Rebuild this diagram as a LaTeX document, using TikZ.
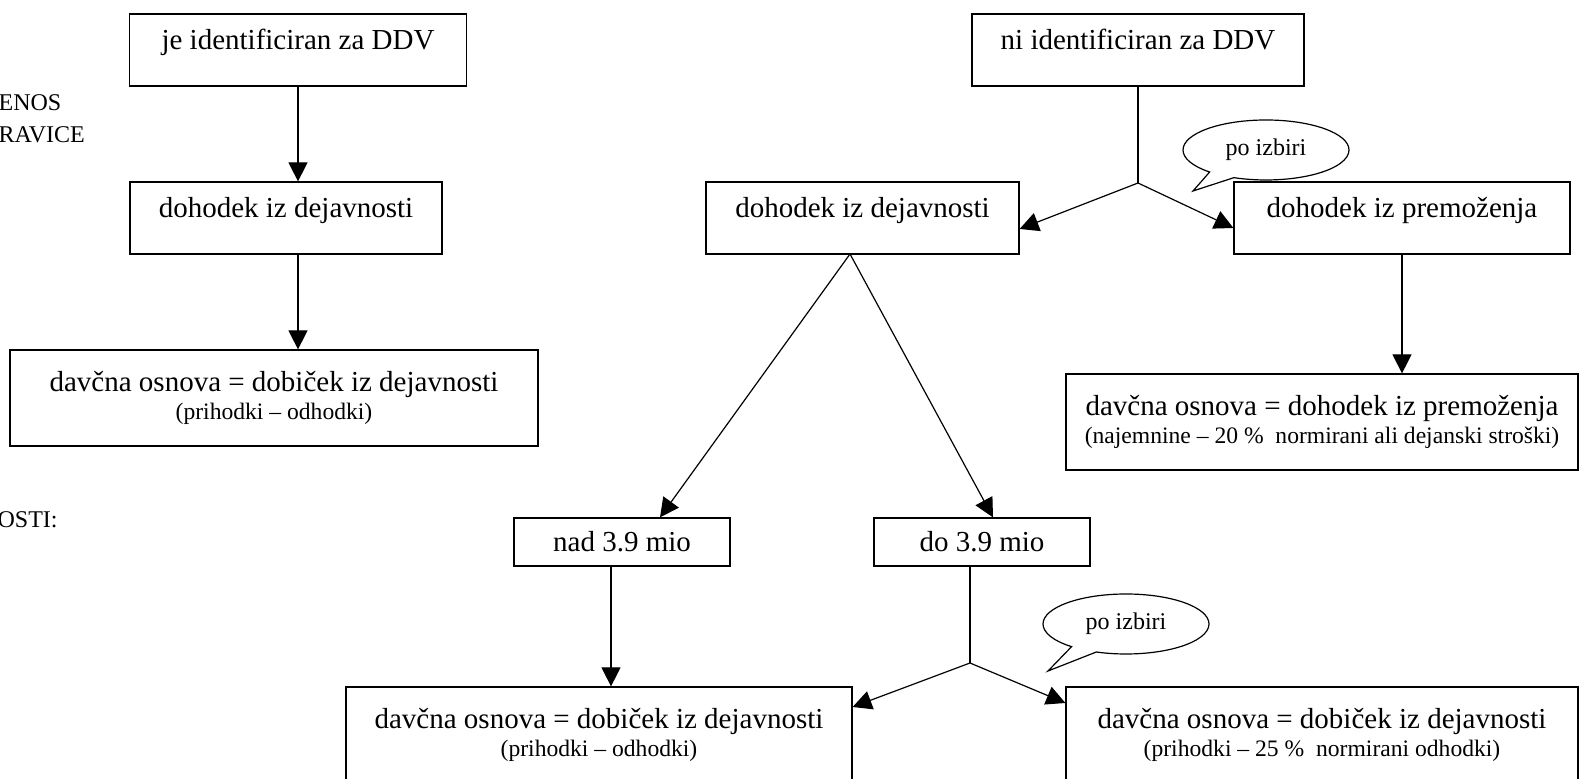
\documentclass[tikz,border=0pt]{standalone}
\usepackage{fontspec}
\setmainfont{Liberation Serif}
\usetikzlibrary{arrows.meta, shapes.callouts}
\newcommand{\mainf}{\fontsize{14.5}{16}\selectfont}
\newcommand{\notef}{\fontsize{11.8}{13}\selectfont}
\newcommand{\sidef}{\fontsize{12}{14}\selectfont}

\begin{document}
\begin{tikzpicture}[x=0.5pt, y=-0.5pt, line width=0.6pt,
    >={Triangle[length=9.5pt, width=9.5pt]},
    box/.style={draw, align=center, inner sep=0pt, font=\mainf},
    onerow/.style={text height=18pt, text depth=18pt},
    bubble/.style={ellipse callout, draw, callout pointer arc=20,
      minimum width=83pt, minimum height=30pt, inner sep=0pt, font=\sidef},
    side/.style={anchor=base west, inner sep=0pt, font=\sidef}]
    \useasboundingbox (0,0) rectangle (1580,779);

    \node (enos) [side] at (-2,111) {ENOS};
    \node (ravice) [side] at (-2,143) {RAVICE};
    \node (osti) [side] at (-3,528) {OSTI:};

    \node (je) [box, onerow, minimum width=168.5pt, minimum height=36pt] at (298,50) {je identificiran za DDV};
    \node (dohL) [box, onerow, minimum width=156pt, minimum height=36pt] at (286,218) {dohodek iz dejavnosti};
    \node (davL) [box, minimum width=264pt, minimum height=48pt] at (274,398)
        {davčna osnova = dobiček iz dejavnosti\\[-2pt]{\notef (prihodki – odhodki)}};

    \node (ni) [box, onerow, minimum width=166pt, minimum height=36pt] at (1138,50) {ni identificiran za DDV};
    \node (dohM) [box, onerow, minimum width=156.5pt, minimum height=36pt] at (862.5,218) {dohodek iz dejavnosti};
    \node (prem) [box, onerow, minimum width=168pt, minimum height=36pt] at (1402,218) {dohodek iz premoženja};
    \node (davP) [box, minimum width=256pt, minimum height=48pt] at (1322,422)
        {davčna osnova = dohodek iz premoženja\\[-2pt]{\notef (najemnine – 20 \%~ normirani ali dejanski stroški)}};

    \node (nad) [box, minimum width=108pt, minimum height=24pt] at (622,542) {nad 3.9 mio};
    \node (do) [box, minimum width=108pt, minimum height=24pt] at (982,542) {do 3.9 mio};
    \node (botL) [box, minimum width=253pt, minimum height=48pt] at (599,735)
        {davčna osnova = dobiček iz dejavnosti\\[-2pt]{\notef (prihodki – odhodki)}};
    \node (botR) [box, minimum width=256pt, minimum height=48pt] at (1322,735)
        {davčna osnova = dobiček iz dejavnosti\\[-2pt]{\notef (prihodki – 25 \%~ normirani odhodki)}};

    \node (izbiraA) [bubble, callout absolute pointer={(1193,191)}] at (1266,150) {po izbiri};
    \node (izbiraB) [bubble, callout absolute pointer={(1048,671)}] at (1126,624) {po izbiri};

    \coordinate (njun) at (1138,183);
    \coordinate (apex) at (850,254);
    \coordinate (djun) at (970,663);

    % left column
    \draw [->] (je.south) -- (je.south |- dohL.north);
    \draw [->] (dohL.south -| je.south) -- (davL.north -| je.south);

    % right column
    \draw (ni.south) -- (njun);
    \draw [->] (njun) -- ([yshift=-5.5pt]dohM.east);
    \draw [->] (njun) -- ([yshift=-5pt]prem.west);
    \draw [->] (prem.south) -- (prem.south |- davP.north);
    \draw [->] (apex) -- ([xshift=19pt]nad.north);
    \draw [->] (apex) -- ([xshift=5.5pt]do.north);
    \draw [->] ([xshift=-5.5pt]nad.south) -- ([xshift=-5.5pt]nad.south |- botL.north);
    \draw ([xshift=-6pt]do.south) -- (djun);
    \draw [->] (djun) -- ([yshift=14pt]botL.east);
    \draw [->] (djun) -- ([yshift=16pt]botR.west);
\end{tikzpicture}
\end{document}
